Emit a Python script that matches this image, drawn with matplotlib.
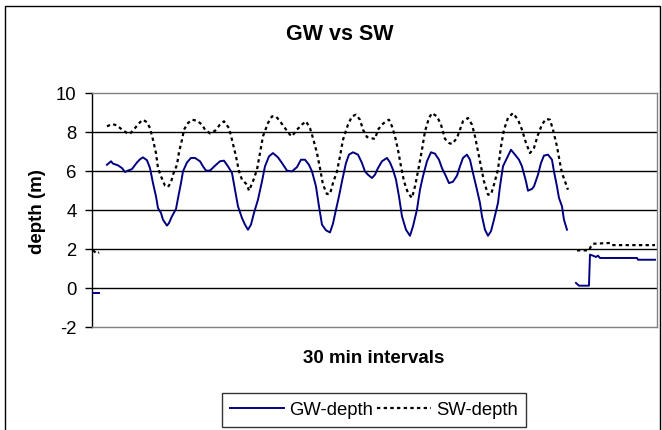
import matplotlib
matplotlib.use("Agg")
import matplotlib.pyplot as plt
import numpy as np
from matplotlib.patches import Rectangle

plt.rcParams['font.family'] = ['Liberation Sans', 'DejaVu Sans']
plt.rcParams['axes.unicode_minus'] = False

# 30 min interval index, depth (m)
gw_start_x = [1, 7]
gw_start_y = [-0.26, -0.26]
gw_x = [15, 19, 21, 26, 30, 33, 36, 40, 45, 48, 51, 55, 58, 61, 64, 66, 69, 71, 75, 77,
        80, 84, 86, 89, 91, 95, 99, 103, 108, 111, 114, 118, 123, 128, 132, 136, 140, 143, 146, 150,
        153, 156, 159, 162, 166, 170, 173, 177, 181, 186, 190, 195, 200, 205, 209, 213, 217, 220, 224, 227,
        230, 234, 238, 241, 244, 247, 250, 254, 257, 261, 266, 270, 273, 276, 280, 283, 286, 290, 295, 298,
        301, 304, 307, 310, 314, 318, 321, 325, 328, 331, 335, 339, 343, 347, 350, 354, 357, 361, 365, 368,
        371, 375, 378, 381, 385, 388, 390, 393, 396, 399, 402, 406, 408, 411, 415, 419, 423, 427, 430, 434,
        436, 440, 442, 446, 449, 452, 456, 460, 462, 465, 467, 470, 472, 475]
gw_y = [6.32, 6.5, 6.38, 6.29, 6.15, 5.95, 6.02, 6.1, 6.44, 6.6, 6.7, 6.55, 6.15, 5.38, 4.7, 4.1, 3.85, 3.5, 3.2, 3.33,
        3.68, 4.05, 4.6, 5.38, 5.98, 6.44, 6.67, 6.67, 6.5, 6.24, 6.02, 6.02, 6.27, 6.5, 6.53, 6.24, 5.9, 5.04, 4.19, 3.59,
        3.25, 2.99, 3.25, 3.85, 4.53, 5.47, 6.24, 6.75, 6.92, 6.7, 6.41, 6.02, 5.98, 6.2, 6.58, 6.58, 6.32, 5.98, 5.21, 4.19,
        3.25, 2.96, 2.85, 3.3, 4.02, 4.7, 5.47, 6.41, 6.84, 6.96, 6.84, 6.41, 5.98, 5.81, 5.64, 5.81, 6.15, 6.5, 6.67, 6.44,
        6.07, 5.56, 4.7, 3.68, 2.99, 2.68, 3.16, 4.02, 5.04, 5.73, 6.5, 6.96, 6.89, 6.58, 6.15, 5.73, 5.38, 5.45, 5.76, 6.24,
        6.67, 6.84, 6.58, 5.9, 5.04, 4.36, 3.68, 2.99, 2.68, 2.91, 3.5, 4.36, 5.21, 6.24, 6.67, 7.09, 6.84, 6.58, 6.24, 5.47,
        4.99, 5.08, 5.21, 5.81, 6.41, 6.79, 6.84, 6.58, 5.98, 5.21, 4.62, 4.19, 3.5, 2.99]
gw_tail_x = [484, 487, 497, 498, 501, 504, 506, 508, 545, 546, 563]
gw_tail_y = [0.26, 0.12, 0.12, 1.71, 1.66, 1.59, 1.66, 1.54, 1.54, 1.45, 1.45]

sw_start_x = [1, 5, 7]
sw_start_y = [1.93, 1.76, 1.83]
sw_x = [15, 20, 25, 30, 35, 38, 43, 48, 51, 55, 58, 61, 64, 66, 69, 73, 76, 79, 81, 85,
        87, 90, 92, 96, 100, 105, 110, 113, 118, 123, 128, 132, 137, 140, 144, 147, 150, 155, 157, 161,
        165, 168, 171, 176, 180, 184, 188, 193, 198, 200, 205, 210, 214, 218, 221, 225, 228, 231, 235, 238,
        241, 245, 248, 251, 256, 260, 264, 268, 271, 275, 279, 283, 286, 290, 294, 297, 300, 303, 306, 309,
        312, 316, 320, 323, 326, 330, 333, 337, 340, 345, 349, 353, 357, 360, 365, 368, 371, 376, 380, 383,
        386, 389, 392, 396, 399, 402, 406, 409, 412, 416, 421, 426, 430, 434, 438, 442, 446, 450, 454, 458,
        461, 465, 468, 470, 473, 476]
sw_y = [8.29, 8.41, 8.34, 8.12, 7.95, 7.91, 8.2, 8.5, 8.63, 8.5, 8.2, 7.6, 6.92, 6.15, 5.73, 5.25, 5.18, 5.42, 5.81, 6.32,
        6.96, 7.6, 8.12, 8.46, 8.63, 8.58, 8.38, 8.12, 7.93, 8.06, 8.38, 8.55, 8.2, 7.6, 6.75, 5.98, 5.56, 5.3, 4.99, 5.47,
        6.07, 6.92, 7.78, 8.46, 8.8, 8.8, 8.55, 8.2, 7.86, 7.78, 8.12, 8.38, 8.55, 8.2, 7.69, 6.92, 6.15, 5.3, 4.82, 4.82,
        5.38, 5.98, 6.75, 7.6, 8.38, 8.8, 8.89, 8.63, 8.12, 7.74, 7.69, 7.64, 8.12, 8.38, 8.55, 8.63, 8.29, 7.78, 7.09, 6.24,
        5.47, 4.87, 4.62, 5.21, 5.98, 7.09, 8.03, 8.72, 8.97, 8.8, 8.38, 7.65, 7.44, 7.38, 7.69, 8.12, 8.55, 8.72, 8.38, 7.78,
        7.01, 6.24, 5.47, 4.79, 4.79, 5.3, 6.07, 7.26, 8.12, 8.72, 8.97, 8.63, 8.12, 7.44, 6.92, 7.18, 7.86, 8.38, 8.67, 8.63,
        8.12, 7.26, 6.41, 5.9, 5.47, 5.04]
sw_tail_x = [485, 497, 499, 501, 518, 520, 563]
sw_tail_y = [1.93, 1.93, 2.14, 2.27, 2.31, 2.2, 2.2]

yticks = [-2, 0, 2, 4, 6, 8, 10]

fig = plt.figure(figsize=(6.62, 4.30), dpi=100)
ax = fig.add_axes([0.1385, 0.2395, 0.8539, 0.5442])

gw_col = '#000080'
sw_style = dict(color='black', lw=1.6, linestyle=(0, (1.5, 1.5)))

for yv in [0, 2, 4, 6, 8]:
    ax.axhline(yv, color='black', lw=1, zorder=1)

ax.plot(sw_start_x, sw_start_y, **sw_style, zorder=2)
ax.plot(sw_x, sw_y, **sw_style, zorder=2, label='SW-depth')
ax.plot(sw_tail_x, sw_tail_y, **sw_style, zorder=2)
ax.plot(gw_start_x, gw_start_y, color=gw_col, lw=1.4, zorder=3)
ax.plot(gw_x, gw_y, color=gw_col, lw=1.4, zorder=3, label='GW-depth')
ax.plot(gw_tail_x, gw_tail_y, color=gw_col, lw=1.4, zorder=3)

ax.set_xlim(-0.3, 565)
ax.set_ylim(-2, 10)
ax.set_yticks(yticks)
ax.set_yticklabels([str(t) for t in yticks], fontsize=13.3)
ax.set_xticks([])
ax.tick_params(axis='y', direction='out', length=5, width=1, color='black', pad=6)
for side in ['top', 'right', 'bottom']:
    ax.spines[side].set_color('#808080')
    ax.spines[side].set_linewidth(1)
ax.spines['left'].set_color('black')
ax.spines['left'].set_linewidth(1)

fig.text(37 / 662, 0.508, 'depth (m)', rotation=90, ha='center', va='center',
         fontsize=13.5, fontweight='bold')
fig.text(0.513, 0.92, 'GW vs SW', ha='center', va='center', fontsize=15.5, fontweight='bold')
fig.text(0.565, 0.167, '30 min intervals', ha='center', va='center', fontsize=13.5, fontweight='bold')

h, l = ax.get_legend_handles_labels()
leg = fig.legend(h[::-1], l[::-1], loc='center', bbox_to_anchor=(0.565, 0.0465), ncol=2,
                 fontsize=13.3, frameon=True, fancybox=False, edgecolor='black',
                 handlelength=2.9, columnspacing=0.25, handletextpad=0.28,
                 borderpad=0.45, borderaxespad=0)
leg.get_frame().set_linewidth(1)

fig.patches.append(Rectangle((5 / 662, -0.05), 655 / 662, 1 - 6 / 430 + 0.05,
                             transform=fig.transFigure, fill=False, edgecolor='black', lw=1))

fig.savefig('out.png', dpi=100)
